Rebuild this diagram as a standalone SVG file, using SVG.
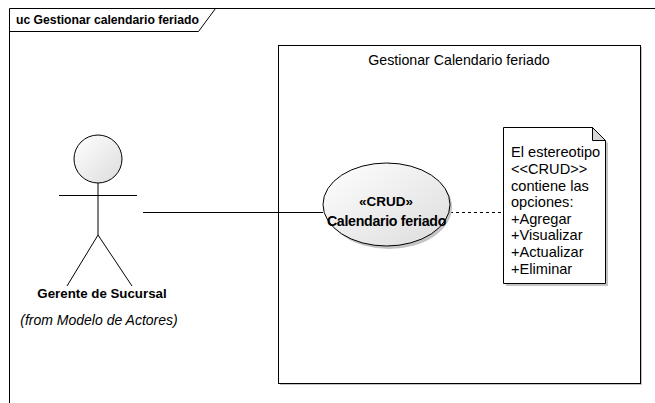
<svg xmlns="http://www.w3.org/2000/svg" width="655" height="403" viewBox="0 0 655 403">
<style>
text{font-family:"Liberation Sans",Arial,sans-serif;fill:#000}
.ln{stroke:#000;stroke-width:1;fill:none}
.b{font-weight:bold}
.sh{fill:#c4c4c4}
</style>
<defs>
<linearGradient id="g" x1="0" y1="0" x2="1" y2="1">
<stop offset="0" stop-color="#ffffff"/>
<stop offset="1" stop-color="#dcdcdc"/>
</linearGradient>
</defs>
<rect width="655" height="403" fill="#fff"/>
<g id="frame">
<path class="ln" d="M9.5,403 V8.5 H655"/>
<path class="ln" d="M9.5,31.5 H198.5 L215.5,8.5"/>
<text x="16" y="24" class="b" font-size="12.2">uc Gestionar calendario feriado</text>
</g>
<g id="system">
<rect x="280" y="47" width="362" height="338" class="sh"/>
<rect x="278.5" y="45.5" width="362" height="338" fill="#fff" stroke="#000"/>
<text x="459" y="65" font-size="14.2" text-anchor="middle">Gestionar Calendario feriado</text>
</g>
<g id="connectors">
<line class="ln" x1="143" y1="212.5" x2="323" y2="212.5"/>
<line class="ln" x1="450" y1="212.5" x2="503" y2="212.5" stroke-dasharray="3,3"/>
</g>
<g id="actor">
<circle cx="98" cy="159" r="24" fill="url(#g)" stroke="#000"/>
<line class="ln" x1="98" y1="183" x2="98" y2="235"/>
<line class="ln" x1="59" y1="195.5" x2="137" y2="195.5"/>
<line class="ln" x1="98" y1="235" x2="67" y2="286"/>
<line class="ln" x1="98" y1="235" x2="132" y2="286"/>
<text x="102" y="298" class="b" font-size="13.3" text-anchor="middle">Gerente de Sucursal</text>
<text x="99" y="325" font-size="14" font-style="italic" text-anchor="middle">(from Modelo de Actores)</text>
</g>
<g id="usecase">
<ellipse cx="389" cy="207" rx="63" ry="42" class="sh"/>
<ellipse cx="386.5" cy="204.5" rx="63.5" ry="41.5" fill="url(#g)" stroke="#000"/>
<text x="386" y="206" class="b" font-size="13.5" text-anchor="middle">«CRUD»</text>
<text x="386.5" y="226" class="b" font-size="14.2" text-anchor="middle" letter-spacing="-0.3">Calendario feriado</text>
</g>
<g id="note">
<path class="sh" d="M506,130 H595 L608,143 V286 H506 Z"/>
<path d="M503.5,127.5 H592.5 L605.5,140.5 V283.5 H503.5 Z" fill="#fff" stroke="#000"/>
<path d="M592.5,127.5 V140.5 H605.5 Z" fill="#d8d8d8" stroke="#000"/>
<g font-size="14.6">
<text x="511" y="157">El estereotipo</text>
<text x="511" y="174">&lt;&lt;CRUD&gt;&gt;</text>
<text x="511" y="190.5">contiene las</text>
<text x="511" y="207">opciones:</text>
<text x="511" y="223.5">+Agregar</text>
<text x="511" y="240">+Visualizar</text>
<text x="511" y="257">+Actualizar</text>
<text x="511" y="273.5">+Eliminar</text>
</g>
</g>
</svg>
